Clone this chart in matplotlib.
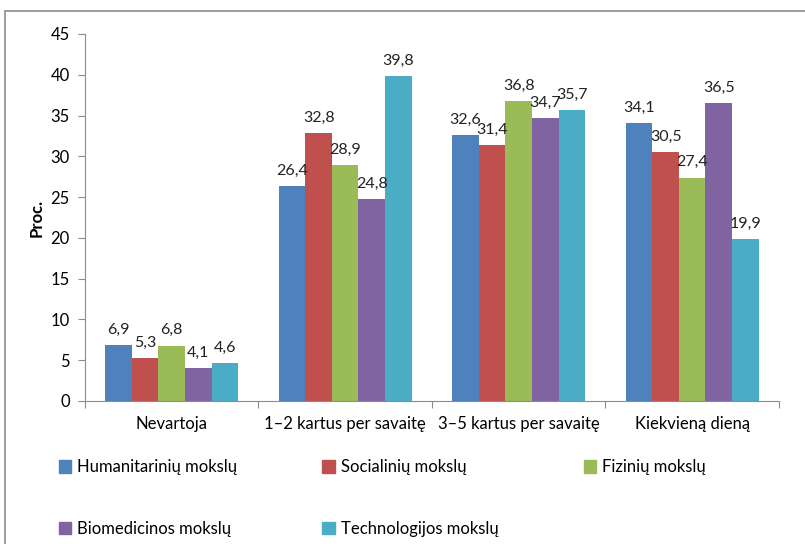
import matplotlib.pyplot as plt
import numpy as np
from matplotlib.patches import Rectangle, Patch

plt.rcParams['font.family'] = ['Lato', 'DejaVu Sans']

categories = ["Nevartoja", "1–2 kartus per savaitę", "3–5 kartus per savaitę", "Kiekvieną dieną"]
series = ["Humanitarinių mokslų", "Socialinių mokslų", "Fizinių mokslų",
          "Biomedicinos mokslų", "Technologijos mokslų"]
humanitariniu = [6.9, 26.4, 32.6, 34.1]
socialiniu = [5.3, 32.8, 31.4, 30.5]
fiziniu = [6.8, 28.9, 36.8, 27.4]
biomedicinos = [4.1, 24.8, 34.7, 36.5]
technologijos = [4.6, 39.8, 35.7, 19.9]
values = [humanitariniu, socialiniu, fiziniu, biomedicinos, technologijos]
colors = ["#4F81BD", "#C0504D", "#9BBB59", "#8064A2", "#4BACC6"]

fig = plt.figure(figsize=(8.05, 5.44), dpi=100)
ax = fig.add_axes([0.1056, 0.2629, 0.862, 0.6746])

# outer chart frame (cut off at right and bottom like the source)
fig.patches.append(Rectangle((5 / 805, -0.05), 1.2, 1 - 11 / 544 + 0.05,
                             transform=fig.transFigure, fill=False,
                             edgecolor="#8C8C8C", linewidth=1.2))

x = np.arange(len(categories))
w = 0.153
for i, (vals, c) in enumerate(zip(values, colors)):
    pos = x + (i - 2) * w
    ax.bar(pos, vals, width=w, color=c, edgecolor="none")
    for px, v in zip(pos, vals):
        ax.text(px, v + 1.0, f"{v:.1f}".replace(".", ","), ha="center", va="bottom",
                fontsize=11.5, color="#222222")

ax.set_xlim(-0.5, len(categories) - 0.5)
ax.set_ylim(0, 45)
ax.set_yticks(range(0, 46, 5))
ax.set_xticks(np.arange(-0.5, len(categories), 1.0))
ax.set_xticklabels([])
ax.set_xticks(x, minor=True)
ax.set_xticklabels(categories, minor=True)
ax.tick_params(axis="x", which="minor", length=0, pad=11, labelsize=12)
ax.tick_params(axis="x", which="major", length=5, color="#8C8C8C")
ax.tick_params(axis="y", length=5, color="#8C8C8C", labelsize=12, pad=6)
for s in ["top", "right"]:
    ax.spines[s].set_visible(False)
for s in ["left", "bottom"]:
    ax.spines[s].set_color("#8C8C8C")
ax.set_ylabel("Proc.", fontweight="bold", fontsize=12, labelpad=4)

order = [0, 3, 1, 4, 2]
handles = [Patch(color=colors[k]) for k in order]
labels = [series[k] for k in order]
fig.legend(handles, labels, loc="upper left", bbox_to_anchor=(0.065, 0.168),
           ncol=3, frameon=False, fontsize=12, handlelength=0.75, handleheight=0.75,
           handletextpad=0.35, labelspacing=2.75, columnspacing=5.1, borderaxespad=0)

fig.savefig("out.png", dpi=100)
